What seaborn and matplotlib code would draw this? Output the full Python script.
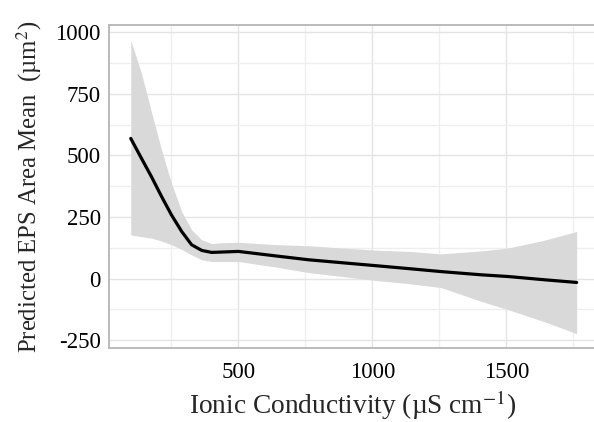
import numpy as np
import pandas as pd
import matplotlib
matplotlib.use("Agg")
import matplotlib.pyplot as plt
from matplotlib.ticker import MultipleLocator
import seaborn as sns

# Valeurs (courbe lissée + intervalle de confiance)
conductivity = [98, 138, 175, 213, 250, 288, 325, 363, 400, 450, 500, 637,
                762, 1013, 1137, 1257, 1406, 1507, 1640, 1762]
eps_mean = [569, 488, 414, 333, 258, 191, 137, 114, 106, 108, 110, 92,
            76, 52, 40, 28, 15, 8, -5, -16]
ci_upper = [968, 833, 677, 522, 387, 272, 198, 157, 142, 146, 147, 138,
            133, 115, 110, 100, 112, 124, 155, 191]
ci_lower = [177, 170, 164, 152, 137, 118, 96, 76, 69, 69, 69, 47,
            24, -8, -21, -37, -93, -127, -175, -224]

x_ticks = [500, 1000, 1500]
y_ticks = [-250, 0, 250, 500, 750, 1000]

df = pd.DataFrame({"Conductivity": conductivity, "EPS": eps_mean,
                   "lower": ci_lower, "upper": ci_upper})

sns.set_style("white")
plt.rcParams["font.family"] = ["Liberation Serif", "DejaVu Serif"]
plt.rcParams["mathtext.fontset"] = "stix"
plt.rcParams["axes.unicode_minus"] = False

fig = plt.figure(figsize=(5.94, 4.22), dpi=100)
ax = fig.add_axes([0.1827, 0.1744, 0.8224, 0.7664])

# bande de confiance
ax.fill_between(df["Conductivity"], df["lower"], df["upper"],
                color="#d9d9d9", linewidth=0, zorder=2)
sns.lineplot(data=df, x="Conductivity", y="EPS", ax=ax, color="black",
             linewidth=2.3, zorder=3)

ax.set_xlim(15, 1838)
ax.set_ylim(-284, 1030)
ax.set_xticks(x_ticks)
ax.set_yticks(y_ticks)
ax.xaxis.set_minor_locator(MultipleLocator(250))
ax.yaxis.set_minor_locator(MultipleLocator(125))
ax.grid(which="major", color="#e4e4e4", linewidth=1.0, zorder=0)
ax.grid(which="minor", color="#eeeeee", linewidth=0.9, zorder=0)
ax.set_axisbelow(True)

for side in ["left", "top", "bottom"]:
    ax.spines[side].set_color("#b5b5b5")
    ax.spines[side].set_linewidth(1.3)
ax.spines["right"].set_visible(False)

ax.tick_params(which="major", axis="both", direction="out", length=3.5,
               width=1.0, color="#b5b5b5", labelsize=16.5, labelcolor="black")
ax.tick_params(axis="x", pad=6)
ax.tick_params(axis="y", pad=2)
ax.tick_params(which="minor", length=0)

ax.set_xlabel("Ionic Conductivity (µS cm$^{-1}$)", fontsize=19.7, labelpad=4)
ax.set_ylabel("Predicted EPS Area Mean  (µm$^{2}$)", fontsize=17.8, labelpad=8)

fig.savefig("out.png", dpi=100)
